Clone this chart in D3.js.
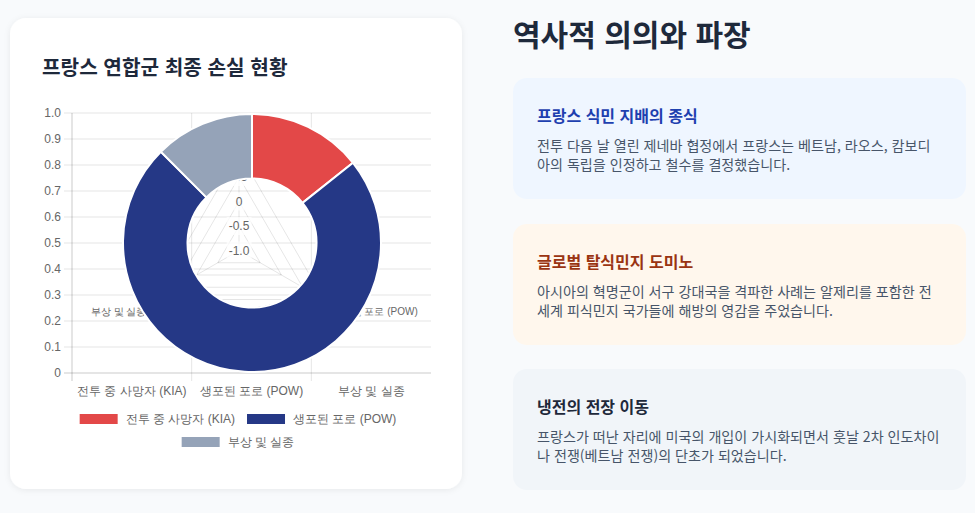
<!DOCTYPE html>
<html lang="ko">
<head>
<meta charset="utf-8">
<script src="https://cdn.jsdelivr.net/npm/d3@7"></script>
<style>
  html, body { margin: 0; padding: 0; background: #f8fafc; }
  svg { display: block; }
</style>
</head>
<body>
<svg id="page" width="975" height="513"></svg>
<script>
// Chart data
const categories = ['전투 중 사망자 (KIA)', '생포된 포로 (POW)', '부상 및 실종'];
const losses = [2293, 11721, 2000];
const radarTickValues = [-1, -0.5, 0, 0.5, 1];

// Texts
const chartTitle = '프랑스 연합군 최종 손실 현황';
const sectionTitle = '역사적 의의와 파장';
const cardTitles = ['프랑스 식민 지배의 종식', '글로벌 탈식민지 도미노', '냉전의 전장 이동'];
const cardLines = [
  ['전투 다음 날 열린 제네바 협정에서 프랑스는 베트남, 라오스, 캄보디', '아의 독립을 인정하고 철수를 결정했습니다.'],
  ['아시아의 혁명군이 서구 강대국을 격파한 사례는 알제리를 포함한 전', '세계 피식민지 국가들에 해방의 영감을 주었습니다.'],
  ['프랑스가 떠난 자리에 미국의 개입이 가시화되면서 훗날 2차 인도차이', '나 전쟁(베트남 전쟁)의 단초가 되었습니다.']
];

// Colours
const sliceColors = ['#e34848', '#253886', '#95a3b8'];
const cardFills = ['#eff6ff', '#fff7ed', '#f1f5f9'];
const cardTitleColors = ['#1e40af', '#9a3412', '#1e293b'];

const GRID = 'rgba(0,0,0,0.1)';
const LABEL = '#666';
const CHART_FONT = "'Helvetica Neue', Helvetica, Arial, sans-serif";
const PAGE_FONT = "'Noto Sans CJK KR', 'Noto Sans', sans-serif";

// Layout
const leftCard = { x: 10, y: 18, w: 452, h: 471 };
const area = { left: 72, right: 431, top: 113, bottom: 373 };
const canvas = { left: 42, right: 431 };
const radar = { cx: 239, cy: 250.5, r: 98, labelDist: 107 };
const cardBox = { x: 513, w: 453, tops: [78, 224, 369], h: 121 };

// y position of a baseline that centres a line of text on cy
const mid = (cy, size) => cy + size * 0.36;

// Chart.js style number labels (plain hyphen minus)
const tickText = v => v === 0 ? '0' : v.toFixed(1);

const svg = d3.select('#page');

// Soft card shadow
svg.append('defs').append('filter')
  .attr('id', 'cardShadow')
  .attr('x', '-10%').attr('y', '-10%').attr('width', '120%').attr('height', '120%')
  .append('feDropShadow')
  .attr('dx', 0).attr('dy', 1).attr('stdDeviation', 3)
  .attr('flood-color', '#0f172a').attr('flood-opacity', 0.07);

svg.append('rect')
  .attr('x', leftCard.x).attr('y', leftCard.y)
  .attr('width', leftCard.w).attr('height', leftCard.h)
  .attr('rx', 16)
  .attr('fill', '#fff')
  .attr('filter', 'url(#cardShadow)');

svg.append('text')
  .attr('x', 42).attr('y', mid(67.5, 20.2))
  .attr('font-family', PAGE_FONT).attr('font-size', 20.2).attr('font-weight', 700)
  .attr('fill', '#1e293b')
  .text(chartTitle);

// Scales
const x = d3.scaleBand().domain(categories).range([area.left, area.right]);
const y = d3.scaleLinear().domain([0, 1]).range([area.bottom, area.top]);
const r = d3.scaleLinear().domain([-1, 1]).range([0, radar.r]);
const angle = i => i * 2 * Math.PI / categories.length;

const chart = svg.append('g').attr('font-family', CHART_FONT);

// Horizontal grid lines (incl. tick marks)
chart.append('g')
  .selectAll('line')
  .data(y.ticks(10))
  .join('line')
  .attr('x1', area.left - 8).attr('x2', area.right)
  .attr('y1', d => y(d)).attr('y2', d => y(d))
  .attr('stroke', GRID);

// Vertical grid lines at category edges
chart.append('g')
  .selectAll('line')
  .data(categories)
  .join('line')
  .attr('x1', d => x(d)).attr('x2', d => x(d))
  .attr('y1', area.top).attr('y2', area.bottom + 8)
  .attr('stroke', GRID);

// Axis border lines
chart.append('line')
  .attr('x1', area.left).attr('x2', area.left)
  .attr('y1', area.top).attr('y2', area.bottom + 8)
  .attr('stroke', GRID);
chart.append('line')
  .attr('x1', area.left - 8).attr('x2', area.right)
  .attr('y1', area.bottom).attr('y2', area.bottom)
  .attr('stroke', GRID);

// Y axis labels
const yAxis = d3.axisLeft(y)
  .ticks(10)
  .tickSize(8)
  .tickPadding(3)
  .tickFormat(tickText);
chart.append('g')
  .attr('transform', 'translate(' + area.left + ',0)')
  .call(yAxis)
  .call(g => g.select('.domain').remove())
  .call(g => g.selectAll('.tick line').remove())
  .call(g => g.selectAll('text')
    .attr('font-family', CHART_FONT).attr('font-size', 12).attr('fill', LABEL));

// X axis labels
const xAxis = d3.axisBottom(x).tickSize(0).tickPadding(13);
chart.append('g')
  .attr('transform', 'translate(0,' + area.bottom + ')')
  .call(xAxis)
  .call(g => g.select('.domain').remove())
  .call(g => g.selectAll('text')
    .attr('font-family', CHART_FONT).attr('font-size', 12).attr('fill', LABEL));

// Radial scale (drawn beneath the doughnut)
const rg = chart.append('g').attr('transform', 'translate(' + radar.cx + ',' + radar.cy + ')');
const ring = d3.lineRadial()
  .angle((d, i) => angle(i))
  .radius(d => d)
  .curve(d3.curveLinearClosed);

rg.append('g')
  .selectAll('path')
  .data(radarTickValues.slice(1))
  .join('path')
  .attr('d', v => ring(categories.map(() => r(v))))
  .attr('fill', 'none')
  .attr('stroke', GRID);

rg.append('g')
  .selectAll('line')
  .data(categories)
  .join('line')
  .attr('x2', (d, i) => r(1) * Math.sin(angle(i)))
  .attr('y2', (d, i) => -r(1) * Math.cos(angle(i)))
  .attr('stroke', GRID);

// Point labels
rg.append('g')
  .selectAll('text')
  .data(categories)
  .join('text')
  .attr('font-size', 10)
  .attr('fill', LABEL)
  .attr('text-anchor', (d, i) => {
    const s = Math.sin(angle(i));
    return Math.abs(s) < 1e-6 ? 'middle' : (s > 0 ? 'start' : 'end');
  })
  .attr('x', (d, i) => radar.labelDist * Math.sin(angle(i)))
  .attr('y', (d, i) => {
    const c = -radar.labelDist * Math.cos(angle(i));
    return c < 0 ? mid(c - 6, 10) : mid(c + 7, 10);
  })
  .text(d => d);

// Tick labels with backdrop
const tickG = rg.append('g')
  .selectAll('g')
  .data(radarTickValues)
  .join('g')
  .attr('transform', v => 'translate(0,' + (-r(v)) + ')');
tickG.append('text')
  .attr('text-anchor', 'middle')
  .attr('font-size', 12)
  .attr('fill', LABEL)
  .attr('y', mid(0, 12))
  .text(tickText);
tickG.each(function () {
  const g = d3.select(this);
  const b = g.select('text').node().getBBox();
  g.insert('rect', 'text')
    .attr('x', b.x - 2).attr('y', -7 - 2)
    .attr('width', b.width + 4).attr('height', 14 + 4)
    .attr('fill', 'rgba(255,255,255,0.75)');
});

// Doughnut
const pie = d3.pie().sort(null).value(d => d);
const arc = d3.arc().innerRadius(64.5).outerRadius(129);
chart.append('g')
  .attr('transform', 'translate(' + ((area.left + area.right) / 2 + 0.5) + ',' + ((area.top + area.bottom) / 2) + ')')
  .selectAll('path')
  .data(pie(losses))
  .join('path')
  .attr('d', arc)
  .attr('fill', (d, i) => sliceColors[i])
  .attr('stroke', '#fff')
  .attr('stroke-width', 2);

// Legend, wrapped into centred rows like Chart.js
const legend = chart.append('g');
const items = legend.selectAll('g')
  .data(categories)
  .join('g');
items.append('rect')
  .attr('width', 40).attr('height', 12)
  .attr('fill', (d, i) => sliceColors[i])
  .attr('stroke', '#fff').attr('stroke-width', 2);
items.append('text')
  .attr('x', 47).attr('y', mid(6, 12))
  .attr('font-size', 12).attr('fill', LABEL)
  .text(d => d);

const rows = [];
let row = [], rowW = 0;
items.each(function () {
  const w = 47 + d3.select(this).select('text').node().getComputedTextLength();
  const next = row.length ? rowW + 11 + w : w;
  if (row.length && next > canvas.right - canvas.left) {
    rows.push({ nodes: row, width: rowW });
    row = [this]; rowW = w;
  } else {
    row.push(this); rowW = next;
  }
  this.__w = w;
});
rows.push({ nodes: row, width: rowW });

const legendCx = (canvas.left + canvas.right) / 2 + 1;
rows.forEach((rw, ri) => {
  let px = legendCx - rw.width / 2;
  rw.nodes.forEach(n => {
    d3.select(n).attr('transform', 'translate(' + px + ',' + (413 + ri * 23) + ')');
    px += n.__w + 11;
  });
});

// Right column
svg.append('text')
  .attr('x', 513).attr('y', mid(35, 30))
  .attr('font-family', PAGE_FONT).attr('font-size', 30).attr('font-weight', 700)
  .attr('fill', '#1e293b')
  .text(sectionTitle);

const cards = svg.append('g')
  .attr('font-family', PAGE_FONT)
  .selectAll('g')
  .data(cardTitles)
  .join('g')
  .attr('transform', (d, i) => 'translate(' + cardBox.x + ',' + cardBox.tops[i] + ')');

cards.append('rect')
  .attr('width', cardBox.w).attr('height', cardBox.h)
  .attr('rx', 14)
  .attr('fill', (d, i) => cardFills[i]);

cards.append('text')
  .attr('x', 24).attr('y', mid(38, 16))
  .attr('font-size', 16).attr('font-weight', 700)
  .attr('fill', (d, i) => cardTitleColors[i])
  .text(d => d);

cards.each(function (d, i) {
  d3.select(this).append('g')
    .selectAll('text')
    .data(cardLines[i])
    .join('text')
    .attr('x', 24)
    .attr('y', (t, j) => mid(67.5 + j * 19.5, 14.1))
    .attr('font-size', 14.1)
    .attr('fill', '#475569')
    .text(t => t);
});
</script>
</body>
</html>
